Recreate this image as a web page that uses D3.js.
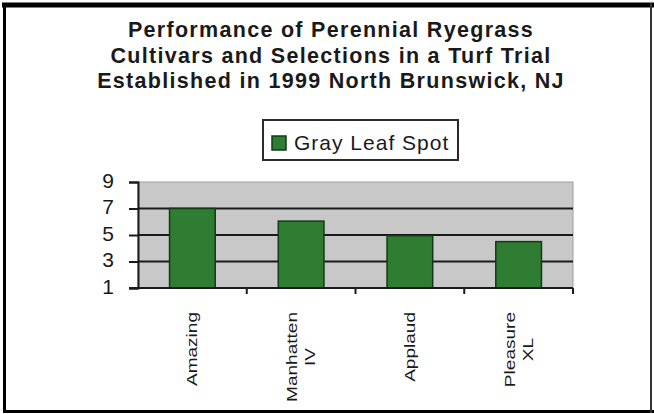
<!DOCTYPE html>
<html>
<head>
<meta charset="utf-8">
<script src="https://cdn.jsdelivr.net/npm/d3@7"></script>
<style>
  html, body { margin: 0; padding: 0; background: #fff; }
  svg { display: block; font-family: "Liberation Sans", Arial, sans-serif; }
</style>
</head>
<body>
<svg id="chart" width="654" height="414"></svg>
<script>
const titleLines = [
  "Performance of Perennial Ryegrass",
  "Cultivars and Selections in a Turf Trial",
  "Established in 1999 North Brunswick, NJ"
];
const seriesName = "Gray Leaf Spot";
const categories = [["Amazing"], ["Manhatten", "IV"], ["Applaud"], ["Pleasure", "XL"]];
const values = [7.0, 6.05, 4.95, 4.5];
const yTicks = [1, 3, 5, 7, 9];
const gridValues = [3, 5, 7];

const svg = d3.select("#chart");
const W = 654, H = 414;
const plot = { left: 138, right: 573, top: 182, bottom: 288 };
const green = "#2f7d33", barStroke = "#163816";

// outer frame
svg.append("rect").attr("x", 0).attr("y", 0).attr("width", W).attr("height", H).attr("fill", "#fff");
svg.append("line").attr("x1", 2).attr("x2", 654).attr("y1", 5).attr("y2", 5).attr("stroke", "#000").attr("stroke-width", 5);
svg.append("line").attr("x1", 4.5).attr("x2", 4.5).attr("y1", 3).attr("y2", 413).attr("stroke", "#000").attr("stroke-width", 3);
svg.append("line").attr("x1", 3).attr("x2", 654).attr("y1", 411.5).attr("y2", 411.5).attr("stroke", "#000").attr("stroke-width", 3);
svg.append("line").attr("x1", 651).attr("x2", 651).attr("y1", 3).attr("y2", 413).attr("stroke", "#333").attr("stroke-width", 2);

// title
const title = svg.append("text")
  .attr("text-anchor", "middle")
  .attr("font-size", 21.5).attr("font-weight", "bold")
  .attr("letter-spacing", 1.3)
  .attr("fill", "#1a1a1a");
titleLines.forEach((t, i) => {
  title.append("tspan").attr("x", 331).attr("y", 37 + i * 25.5).text(t);
});

// legend
const lg = svg.append("g");
lg.append("rect").attr("x", 263).attr("y", 120).attr("width", 195).attr("height", 40)
  .attr("fill", "#fff").attr("stroke", "#2a2a2a").attr("stroke-width", 2);
lg.append("rect").attr("x", 272).attr("y", 136).attr("width", 14).attr("height", 14)
  .attr("fill", green).attr("stroke", barStroke).attr("stroke-width", 1.5);
lg.append("text").attr("x", 294).attr("y", 150).attr("font-size", 21)
  .attr("letter-spacing", 1).attr("fill", "#1a1a1a").text(seriesName);

// scales
const labels = categories.map(c => c.join(" "));
const x = d3.scaleBand()
  .domain(labels)
  .range([plot.left, plot.right])
  .paddingInner(0.58).paddingOuter(0.29);
const y = d3.scaleLinear().domain([1, 9]).range([plot.bottom, plot.top]);

// plot area
svg.append("rect").attr("x", plot.left).attr("y", plot.top)
  .attr("width", plot.right - plot.left).attr("height", plot.bottom - plot.top)
  .attr("fill", "#c8c8c8").attr("stroke", "#a0a0a0").attr("stroke-width", 1);

// gridlines
svg.append("g").selectAll("line").data(gridValues).join("line")
  .attr("x1", plot.left).attr("x2", plot.right)
  .attr("y1", d => y(d)).attr("y2", d => y(d))
  .attr("stroke", "#1a1a1a").attr("stroke-width", 2);

// bars
svg.append("g").selectAll("rect").data(values).join("rect")
  .attr("x", (d, i) => x(labels[i]))
  .attr("width", x.bandwidth())
  .attr("y", d => y(d))
  .attr("height", d => y(1) - y(d))
  .attr("fill", green).attr("stroke", barStroke).attr("stroke-width", 1.5);

// y axis
const yAxis = svg.append("g").attr("transform", `translate(${plot.left},0)`)
  .call(d3.axisLeft(y).tickValues(yTicks).tickSize(9).tickPadding(15).tickFormat(d3.format("d")));
yAxis.select(".domain").attr("stroke", "#1a1a1a").attr("stroke-width", 2);
yAxis.selectAll(".tick line").attr("stroke", "#1a1a1a").attr("stroke-width", 2);
yAxis.selectAll(".tick text").attr("font-size", 21).attr("fill", "#1a1a1a")
  .attr("font-family", "'Liberation Sans', Arial, sans-serif").attr("dy", "0.25em");

// x axis line and boundary ticks
const step = x.step();
const boundaries = d3.range(categories.length + 1).map(i => plot.left + i * step);
svg.append("line").attr("x1", plot.left - 9).attr("x2", plot.right)
  .attr("y1", plot.bottom).attr("y2", plot.bottom)
  .attr("stroke", "#1a1a1a").attr("stroke-width", 2);
svg.append("g").selectAll("line").data(boundaries.slice(1)).join("line")
  .attr("x1", d => d).attr("x2", d => d)
  .attr("y1", plot.bottom).attr("y2", plot.bottom + 6)
  .attr("stroke", "#1a1a1a").attr("stroke-width", 2);

// x labels (rotated)
const labelTop = 312, lineH = 18;
categories.forEach((lines, i) => {
  const cx = x(labels[i]) + x.bandwidth() / 2;
  const g = svg.append("g").attr("transform", `translate(${cx},${labelTop}) rotate(-90) scale(1.36,1)`);
  const t = g.append("text").attr("font-size", 14).attr("fill", "#1a1a1a")
    .attr("text-anchor", "middle").attr("dominant-baseline", "central");
  const spans = lines.map((ln, j) => t.append("tspan")
    .attr("y", (j - (lines.length - 1) / 2) * lineH).text(ln));
  const maxLen = d3.max(spans, s => s.node().getComputedTextLength());
  spans.forEach(s => s.attr("x", -maxLen / 2));
});
</script>
</body>
</html>
